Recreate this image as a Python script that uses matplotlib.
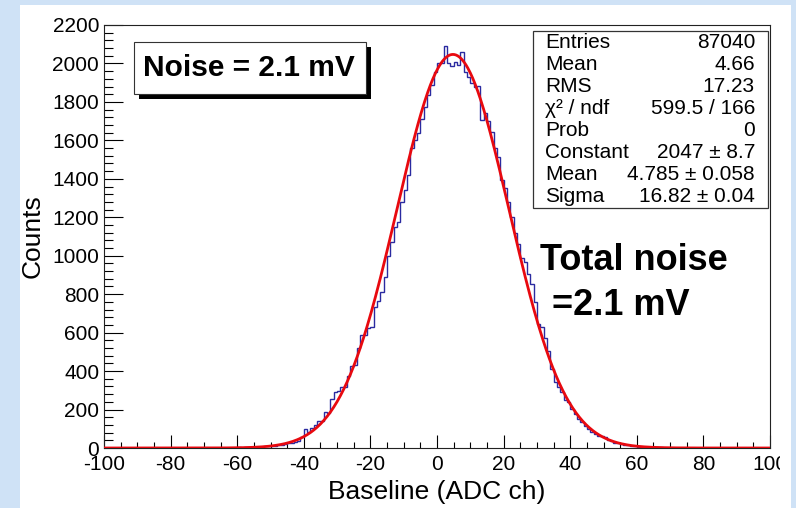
import numpy as np
import matplotlib
matplotlib.use('Agg')
import matplotlib.pyplot as plt
from matplotlib.patches import Rectangle
from matplotlib.transforms import Bbox

W, H = 796, 508

# histogram: 1 ADC-ch bins, first non-empty region starts at -65
first_bin = -65
counts = [
    0, 1, 0, 2, 1, 3, 2, 4, 3, 5,                             # -65..-56
    4, 6, 7, 8, 9, 11, 12, 15, 17, 22,                        # -55..-46
    25, 28, 33, 36, 57, 99, 84, 102, 118, 140,                # -45..-36
    142, 185, 184, 254, 290, 296, 318, 316, 374, 425,         # -35..-26
    430, 519, 586, 590, 623, 628, 732, 763, 810, 887,         # -25..-16
    996, 1069, 1147, 1173, 1282, 1344, 1422, 1562, 1600, 1640,  # -15..-6
    1710, 1776, 1837, 1889, 1953, 2003, 2003, 2093, 2003, 1987,  # -5..4
    2010, 1992, 2057, 1958, 1932, 1900, 1878, 1885, 1707, 1743,  # 5..14
    1700, 1645, 1562, 1515, 1396, 1354, 1282, 1200, 1120, 1060,  # 15..24
    990, 965, 903, 851, 758, 643, 630, 571, 503, 410,         # 25..34
    342, 316, 290, 250, 239, 202, 176, 150, 135, 114,         # 35..44
    99, 85, 73, 64, 60, 55, 40, 36, 28, 26,                   # 45..54
    20, 16, 14, 10, 8, 7, 5, 4, 3, 3,                         # 55..64
    2, 3, 3, 1, 1, 0, 1,                                      # 65..71
]

# gaussian fit parameters (from the stats box)
fit_const, fit_mean, fit_sigma = 2047, 4.785, 16.82

stat_labels = ['Entries', 'Mean', 'RMS', 'χ² / ndf', 'Prob', 'Constant', 'Mean', 'Sigma']
stat_values = ['87040', '4.66', '17.23', '599.5 / 166', '0',
               '2047 ± 8.7', '4.785 ± 0.058', '16.82 ± 0.04']

xticks = [-100, -80, -60, -40, -20, 0, 20, 40, 60, 80, 100]
yticks = list(range(0, 2201, 200))

plt.rcParams['font.family'] = ['Liberation Sans', 'DejaVu Sans']
plt.rcParams['axes.unicode_minus'] = False


def fx(x):
    return x / W


def fy(y):
    return 1 - y / H


fig = plt.figure(figsize=(W / 100, H / 100), dpi=100, facecolor='#cfe2f6')
# white canvas
fig.add_artist(Rectangle((fx(20), 0), fx(791) - fx(20), fy(5), transform=fig.transFigure,
                         facecolor='white', edgecolor='none', zorder=-5))

ax = fig.add_axes([fx(104), fy(448), fx(770) - fx(104), fy(25) - fy(448)])
ax.set_facecolor('white')

edges = np.arange(-100, 101)
full = np.zeros(200)
full[first_bin + 100:first_bin + 100 + len(counts)] = counts
ax.stairs(full, edges, color='#2a2aa0', lw=1.0, baseline=None, zorder=2)

xf = np.linspace(-100, 100, 801)
ax.plot(xf, fit_const * np.exp(-0.5 * ((xf - fit_mean) / fit_sigma) ** 2),
        color='#e8090f', lw=2.0, zorder=3)

ax.set_xlim(-100, 100)
ax.set_ylim(0, 2200)
ax.set_xticks(xticks)
ax.set_yticks(yticks)
ax.set_xticks(np.arange(-100, 101, 5), minor=True)
ax.set_yticks(np.arange(0, 2201, 40), minor=True)
ax.tick_params(axis='both', which='both', direction='in', top=False, right=False,
               width=0.8, color='black', labelsize=15)
ax.tick_params(axis='y', which='major', length=13.7, pad=3.5)
ax.tick_params(axis='y', which='minor', length=6.8)
ax.tick_params(axis='x', which='major', length=9.1, pad=5)
ax.tick_params(axis='x', which='minor', length=4.6)
for sp in ax.spines.values():
    sp.set_linewidth(0.8)
    sp.set_color('#222222')

# the right-most label is cut by the canvas edge
lab = ax.get_xticklabels()[-1]
lab.set_clip_on(True)
lab.set_clip_box(Bbox.from_extents(0, 0, 780, H))

ax.set_xlabel('Baseline (ADC ch)', fontsize=19)
ax.xaxis.set_label_coords(0.5, -(492 - 448) / 423)
ax.xaxis.label.set_va('center')
ax.set_ylabel('Counts', fontsize=19)
ax.yaxis.set_label_coords((33 - 104) / 666, 0.5)
ax.yaxis.label.set_va('center')

# "Noise = 2.1 mV" box with shadow
fig.add_artist(Rectangle((fx(139), fy(99)), fx(371) - fx(139), fy(47) - fy(99),
                         transform=fig.transFigure, facecolor='black', edgecolor='none', zorder=4))
fig.add_artist(Rectangle((fx(134), fy(94)), fx(366) - fx(134), fy(42) - fy(94),
                         transform=fig.transFigure, facecolor='white', edgecolor='#333333',
                         lw=0.8, zorder=5))
fig.text(fx(249), fy(68), 'Noise = 2.1 mV', fontsize=21.5, fontweight='bold',
         ha='center', va='center', zorder=6)

# stats box
fig.add_artist(Rectangle((fx(533), fy(208)), fx(768) - fx(533), fy(31) - fy(208),
                         transform=fig.transFigure, facecolor='white', edgecolor='#333333',
                         lw=0.9, zorder=5))
for i, (lb, val) in enumerate(zip(stat_labels, stat_values)):
    yy = 43 + i * 21.9
    fig.text(fx(545), fy(yy), lb, fontsize=15, ha='left', va='center', zorder=6)
    fig.text(fx(755), fy(yy), val, fontsize=15, ha='right', va='center', zorder=6)

# big annotation
big = dict(fontsize=26, fontweight='bold', ha='left', va='baseline', zorder=6)
fig.text(fx(540), fy(270), 'Total noise', **big)
fig.text(fx(552), fy(315), '=2.1 mV', **big)

fig.savefig('out.png', dpi=100)
